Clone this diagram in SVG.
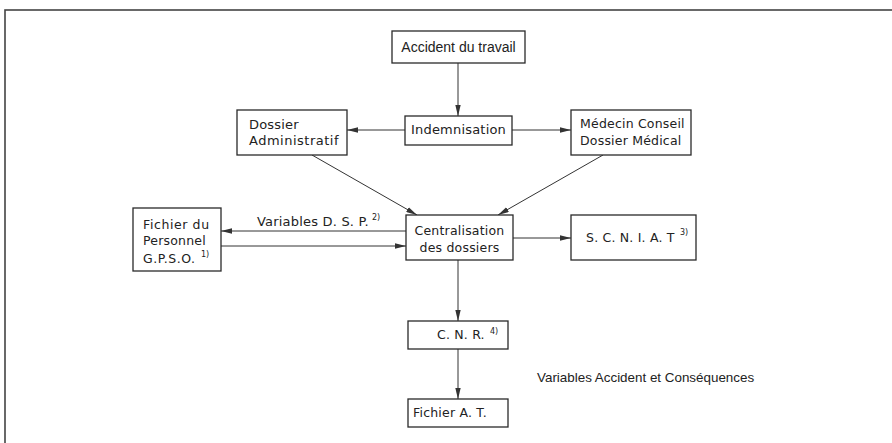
<svg xmlns="http://www.w3.org/2000/svg" width="892" height="443" viewBox="0 0 892 443">
<style>
.box{fill:#fff;stroke:#2a2a2a;stroke-width:1.3}
.t{font-family:"DejaVu Sans","Liberation Sans",sans-serif;font-size:12.5px;fill:#222;letter-spacing:0.2px}
.c{text-anchor:middle}
.sup{font-family:"DejaVu Sans","Liberation Sans",sans-serif;font-size:8px;fill:#222}
.ln{stroke:#333;stroke-width:1;fill:none}
.ar{marker-end:url(#ah)}
</style>
<defs>
<marker id="ah" markerUnits="userSpaceOnUse" markerWidth="12" markerHeight="6" refX="11" refY="3" orient="auto">
<path d="M0,0.3 L11,3 L0,5.7 z" fill="#333"/>
</marker>
</defs>
<rect x="0" y="0" width="892" height="443" fill="#fff"/>
<rect x="5" y="10" width="900" height="450" fill="none" stroke="#444" stroke-width="1.6"/>

<g id="connectors">
<line class="ln ar" x1="458" y1="63" x2="458" y2="116"/>
<line class="ln ar" x1="405" y1="130" x2="347" y2="130"/>
<line class="ln ar" x1="512" y1="130" x2="571" y2="130"/>
<line class="ln ar" x1="312" y1="155" x2="417" y2="215"/>
<line class="ln ar" x1="603" y1="155" x2="498" y2="215"/>
<line class="ln ar" x1="406" y1="231" x2="221" y2="231"/>
<line class="ln ar" x1="221" y1="246" x2="406" y2="246"/>
<line class="ln ar" x1="513" y1="238" x2="571" y2="238"/>
<line class="ln ar" x1="458" y1="260" x2="458" y2="321"/>
<line class="ln ar" x1="458" y1="349" x2="458" y2="399"/>
</g>

<g id="accident">
<rect class="box" x="392" y="31" width="133" height="32"/>
<text x="458.5" y="52" class="c" style="font-family:'Liberation Sans',sans-serif;font-size:14px;fill:#222">Accident du travail</text>
</g>

<g id="indemnisation">
<rect class="box" x="405" y="116" width="107" height="29"/>
<text x="458.5" y="134" class="t c" style="font-size:13px">Indemnisation</text>
</g>

<g id="dossier-admin">
<rect class="box" x="237" y="110" width="110" height="45"/>
<text x="249" y="129" class="t" style="font-size:13px">Dossier</text>
<text x="249" y="145" class="t" style="font-size:13px;letter-spacing:0.5px">Administratif</text>
</g>

<g id="medecin">
<rect class="box" x="571" y="110" width="120" height="45"/>
<text x="580" y="128" class="t">Médecin Conseil</text>
<text x="580" y="145" class="t">Dossier Médical</text>
</g>

<g id="centralisation">
<rect class="box" x="406" y="215" width="107" height="45"/>
<text x="459.5" y="235" class="t c">Centralisation</text>
<text x="459.5" y="252" class="t c">des dossiers</text>
</g>

<g id="fichier-personnel">
<rect class="box" x="133" y="208" width="88" height="63"/>
<text x="143" y="229" class="t" style="letter-spacing:0.6px">Fichier du</text>
<text x="143" y="245" class="t">Personnel</text>
<text x="143" y="263" class="t" style="letter-spacing:0.5px">G.P.S.O.</text>
<text x="201" y="257" class="sup">1)</text>
</g>

<g id="label-dsp">
<text x="257" y="226" class="t" style="font-size:13px">Variables  D. S. P.</text>
<text x="372" y="220" class="sup">2)</text>
</g>

<g id="scniat">
<rect class="box" x="571" y="215" width="125" height="45"/>
<text x="586" y="242" class="t">S. C. N. I. A. T</text>
<text x="680" y="235" class="sup">3)</text>
</g>

<g id="cnr">
<rect class="box" x="408" y="321" width="100" height="28"/>
<text x="437" y="339" class="t">C. N. R.</text>
<text x="490" y="334" class="sup">4)</text>
</g>

<g id="fichier-at">
<rect class="box" x="408" y="399" width="100" height="28"/>
<text x="413" y="417" class="t">Fichier  A. T.</text>
</g>

<g id="label-vac">
<text x="537" y="382" style="font-family:'Liberation Sans',sans-serif;font-size:13.4px;fill:#222">Variables Accident et Conséquences</text>
</g>
</svg>
